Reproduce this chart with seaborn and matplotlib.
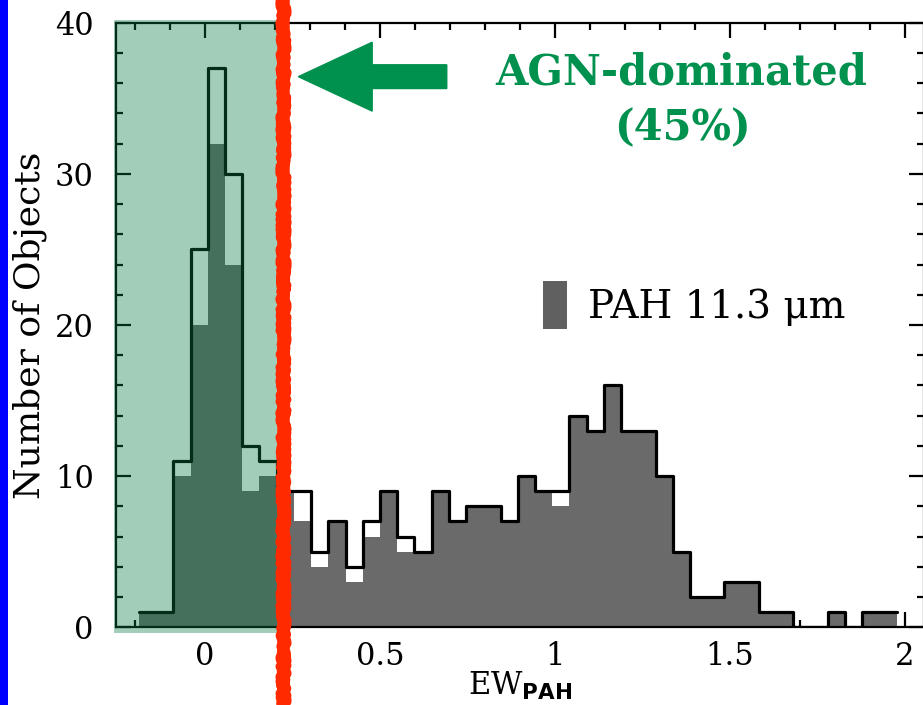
import numpy as np
import pandas as pd
import matplotlib
matplotlib.use("Agg")
import matplotlib.pyplot as plt
import seaborn as sns
from matplotlib.patches import Rectangle, FancyArrow, Patch
from matplotlib.ticker import MultipleLocator

# ---------------- data ----------------
bin_start = -0.189
bin_width = 0.0492
all_counts = [1, 1, 11, 25, 37, 30, 12, 11, 9, 9,
              5, 7, 4, 7, 9, 6, 5, 9, 7, 8,
              8, 7, 10, 9, 9, 14, 13, 16, 13, 13,
              10, 5, 2, 2, 3, 3, 1, 1, 0, 0,
              1, 0, 1, 1]
pah_counts = [1, 1, 10, 20, 32, 24, 9, 10, 9, 7,
              4, 7, 3, 6, 9, 5, 5, 9, 7, 8,
              8, 7, 10, 9, 8, 14, 13, 16, 13, 13,
              10, 5, 2, 2, 3, 3, 1, 1, 0, 0,
              1, 0, 1, 1]
x_ticks = [0, 0.5, 1, 1.5, 2]
x_tick_labels = ["0", "0.5", "1", "1.5", "2"]
y_ticks = [0, 10, 20, 30, 40]
agn_cut = 0.223
legend_label = "PAH 11.3 \u03bcm"
agn_text = "AGN-dominated"
agn_pct = "(45%)"

edges = [float(bin_start + bin_width * k) for k in range(len(all_counts) + 1)]
centers = [0.5 * (edges[k] + edges[k + 1]) for k in range(len(all_counts))]
df = pd.DataFrame({"ew": centers, "all": all_counts, "pah": pah_counts})

# ---------------- style ----------------
sns.set_style("ticks")
plt.rcParams["font.family"] = ["DejaVu Serif"]
plt.rcParams["mathtext.fontset"] = "custom"
plt.rcParams["mathtext.rm"] = "DejaVu Serif"
plt.rcParams["mathtext.bf"] = "DejaVu Sans:bold"
plt.rcParams["text.color"] = "black"
plt.rcParams["axes.labelcolor"] = "black"
plt.rcParams["xtick.color"] = "black"
plt.rcParams["ytick.color"] = "black"

W, H = 923, 705
fig = plt.figure(figsize=(W / 100, H / 100), dpi=100)
ax_left, ax_right, ax_bot, ax_top = 116, 924, 77.7, 682.3
ax = fig.add_axes([ax_left / W, ax_bot / H, (ax_right - ax_left) / W, (ax_top - ax_bot) / H])

sns.histplot(data=df, x="ew", weights="pah", bins=edges, element="step",
             fill=True, color="#6a6a6a", alpha=1, linewidth=0, ax=ax, zorder=2)
sns.histplot(data=df, x="ew", weights="all", bins=edges, element="step",
             fill=False, color="black", linewidth=2.3, ax=ax, zorder=3)

ax.set_xlim(-0.2543, 2.054)
ax.set_ylim(0, 40)
ax.set_xticks(x_ticks)
ax.set_xticklabels(x_tick_labels)
ax.set_yticks(y_ticks)
ax.xaxis.set_minor_locator(MultipleLocator(0.1))
ax.yaxis.set_minor_locator(MultipleLocator(2))
ax.tick_params(which="both", direction="in", top=True, right=True, width=1.6,
               color="black", labelcolor="black")
ax.tick_params(which="major", length=11, labelsize=22)
ax.tick_params(axis="x", which="major", pad=10)
ax.tick_params(axis="y", which="major", pad=16)
ax.tick_params(which="minor", length=5)
for s in ax.spines.values():
    s.set_linewidth(1.6)
    s.set_color("black")

ax.set_ylabel("Number of Objects", fontsize=26)
ax.yaxis.set_label_coords(-0.086, 0.5)
ax.set_xlabel(r"EW$_{\mathbf{PAH}}$", fontsize=22)
ax.xaxis.set_label_coords(0.5, -0.070)

# green AGN region overlay
green_rect = Rectangle((-0.26, -0.38), agn_cut + 0.26, 40.55, facecolor=(10/255, 122/255, 69/255),
                       alpha=0.376, edgecolor="none", zorder=5, clip_on=False)
ax.add_patch(green_rect)

# red dividing line (brush-like)
ax.axvline(agn_cut, ymin=-0.15, ymax=1.06, color="#ff2a00", lw=9, zorder=6, clip_on=False)
rough = ax.axvline(agn_cut, ymin=-0.15, ymax=1.06, color="#ff2a00", lw=8, zorder=6, clip_on=False)
rough.set_sketch_params(scale=2.5, length=6, randomness=12)

# arrow + annotation
ax.add_patch(FancyArrow(0.6906, 36.43, -(0.6906 - 0.2666), 0, width=1.57, head_width=4.56,
                        head_length=0.211, length_includes_head=True, color="#00914f",
                        zorder=7, clip_on=False))
ax.text(1.36, 35.92, agn_text, ha="center", va="baseline", fontsize=30,
        fontweight="bold", color="#00914f", zorder=7)
ax.text(1.363, 33.03, agn_pct, ha="center", va="center", fontsize=30,
        fontweight="bold", color="#00914f", zorder=7)

# legend
leg = ax.legend(handles=[Patch(facecolor="#606060", edgecolor="none", label=legend_label)],
                loc="center left", bbox_to_anchor=(542.7 / W, 1 - 305 / H),
                bbox_transform=fig.transFigure, frameon=False, fontsize=28,
                handlelength=0.62, handleheight=1.49, handletextpad=0.54,
                borderpad=0, borderaxespad=0)
for t in leg.get_texts():
    t.set_color("black")

# blue left border
fig.add_artist(Rectangle((0, 0), 8 / W, 1, transform=fig.transFigure,
                         facecolor="#0000ff", edgecolor="none"))

fig.savefig("out.png", dpi=100)
